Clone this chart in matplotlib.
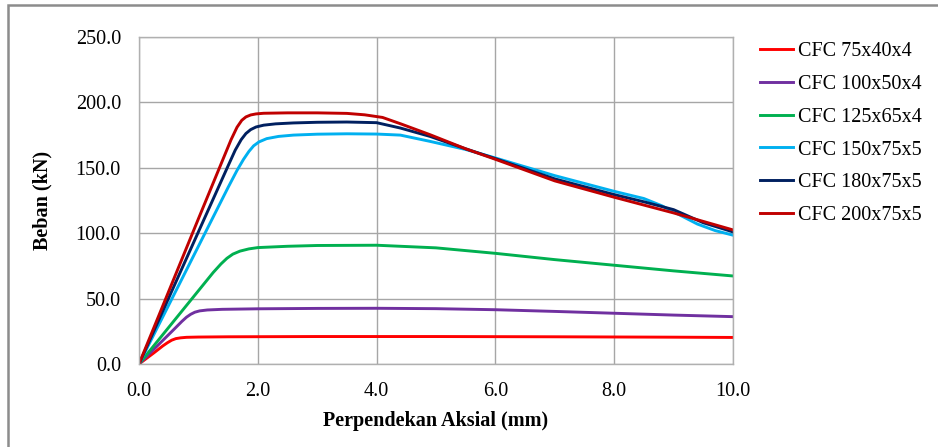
import matplotlib.pyplot as plt
from matplotlib.patches import Rectangle

plt.rcParams['font.family'] = ['Liberation Serif', 'DejaVu Serif']

# data (axial shortening mm, load kN)
labels = ['CFC 75x40x4', 'CFC 100x50x4', 'CFC 125x65x4',
          'CFC 150x75x5', 'CFC 180x75x5', 'CFC 200x75x5']
colors = ['#FF0000', '#7030A0', '#00B050', '#00B0F0', '#002060', '#C00000']

x_75 = [0, 0.25, 0.4, 0.48, 0.55, 0.62, 0.7, 0.8, 1.0, 1.5, 3, 5, 7, 9, 10]
y_75 = [0, 8.5, 13.8, 16.3, 18.2, 19.4, 20.0, 20.4, 20.6, 20.8, 21.0, 21.0, 20.8,
        20.5, 20.3]

x_100 = [0, 0.3, 0.6, 0.72, 0.8, 0.87, 0.94, 1.02, 1.15, 1.4, 2, 3, 4, 5, 6, 7, 8,
         9, 10]
y_100 = [0, 13.5, 27, 32.5, 35.8, 38.0, 39.6, 40.6, 41.3, 41.8, 42.2, 42.5, 42.6,
         42.3, 41.5, 40.2, 38.8, 37.4, 36.2]

x_125 = [0, 0.5, 1.0, 1.25, 1.38, 1.48, 1.58, 1.7, 1.85, 2.0, 2.5, 3, 4, 5, 6, 7,
         8, 9, 10]
y_125 = [0, 28, 56, 70, 76.5, 80.8, 84, 86.3, 88, 89, 90, 90.6, 90.8, 88.8, 84.6,
         79.8, 75.5, 71.2, 67.3]

x_150 = [0, 0.5, 1.0, 1.5, 1.65, 1.76, 1.85, 1.93, 2.02, 2.15, 2.35, 2.6, 3.0,
         3.5, 4.0, 4.4, 4.9, 5.5, 6, 7, 8, 8.5, 8.8, 9.1, 9.4, 9.7, 10]
y_150 = [0, 45, 90, 135, 148, 156.5, 162.5, 166.8, 169.8, 172.3, 174, 175, 175.7,
         176, 175.8, 175, 170.2, 164, 157.5, 144, 132, 126.5, 121, 114, 107, 102,
         98.5]

x_180 = [0, 0.5, 1.0, 1.5, 1.62, 1.72, 1.8, 1.88, 1.97, 2.1, 2.3, 2.6, 3.0, 3.5,
         4.0, 4.4, 4.9, 5.5, 6, 7, 8, 8.5, 9, 9.5, 10]
y_180 = [0, 50.5, 101, 151.5, 163.5, 171.5, 176.2, 179.2, 181.2, 182.6, 183.6,
         184.3, 184.8, 185, 184.5, 180.4, 174, 164.5, 157, 141.5, 129.5, 124, 118,
         108, 101]

x_200 = [0, 0.5, 1.0, 1.4, 1.55, 1.65, 1.73, 1.8, 1.88, 1.97, 2.1, 2.5, 3.0, 3.5,
         3.8, 4.1, 4.4, 4.9, 5.5, 6, 7, 8, 9, 10]
y_200 = [0, 55.5, 111, 155, 171.5, 181, 186.3, 188.9, 190.4, 191.2, 191.7, 192,
         192, 191.6, 190.5, 188.5, 183.7, 175.3, 164.5, 156.5, 140, 127.5, 115.5,
         102.5]

xs = [x_75, x_100, x_125, x_150, x_180, x_200]
ys = [y_75, y_100, y_125, y_150, y_180, y_200]

fig = plt.figure(figsize=(9.38, 4.47), dpi=100)
ax = fig.add_axes([139/938, 1 - 364/447, (733 - 139)/938, (364 - 37)/447])

for xv, yv, c, lab in zip(xs, ys, colors, labels):
  ax.plot(xv, yv, color=c, lw=2.1, label=lab, solid_joinstyle='round')

ax.set_xlim(0, 10)
ax.set_ylim(0, 250)
ax.set_xticks([0, 2, 4, 6, 8, 10])
ax.set_yticks([0, 50, 100, 150, 200, 250])
ax.set_xticklabels(['%.1f' % v for v in ax.get_xticks()])
ax.set_yticklabels(['%.1f' % v for v in ax.get_yticks()])
ax.tick_params(length=0, labelsize=14.5, pad=13, colors='black')
ax.tick_params(axis='x', pad=13)
ax.grid(True, color='#a6a6a6', lw=1)
ax.set_axisbelow(True)
for s in ax.spines.values():
  s.set_color('#b0b0b0')
  s.set_linewidth(1)

ax.set_xlabel('Perpendekan Aksial (mm)', fontsize=14.5, fontweight='bold', labelpad=7)
ax.set_ylabel('Beban (kN)', fontsize=14.5, fontweight='bold', labelpad=17)

fig.legend(loc='upper left', bbox_to_anchor=(752/938, 1 - 34/447), frameon=False,
           fontsize=14.5, handlelength=1.65, handletextpad=0.25, labelspacing=0.68,
           borderaxespad=0)

# figure border (only left and top visible in the reference)
fig.patches.append(Rectangle((8/938, -0.1), 1.2, 1.1 - 5/447, transform=fig.transFigure,
                             fill=False, edgecolor='#8c8c8c', lw=1.8))

fig.savefig('out.png', dpi=100)
